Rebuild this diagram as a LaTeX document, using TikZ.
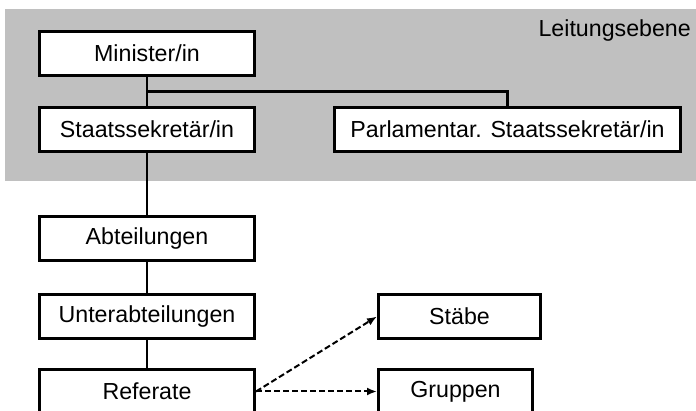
\documentclass[tikz,border=0pt]{standalone}
\usepackage{fontspec}
\setmainfont{Liberation Sans}
\usetikzlibrary{arrows.meta,calc}
\definecolor{bggray}{RGB}{192,192,192}
\tikzset{
  box/.style={draw=black, fill=white, line width=3pt, inner sep=0pt,
    font=\fontsize{23.2}{27}\selectfont},
  conn/.style={draw=black, line width=2.7pt},
  dasharrow/.style={draw=black, line width=2pt, dash pattern=on 6pt off 3pt,
    -{Latex[length=10pt,width=8pt]}},
  label/.style={font=\fontsize{23.2}{27}\selectfont, inner sep=0pt}
}
\begin{document}
\begin{tikzpicture}[x=1pt,y=-1pt]
\useasboundingbox (0,0) rectangle (696,411);
\clip (0,0) rectangle (696,411);
\fill[bggray] (5,9) rectangle (700,181);
\node[label, anchor=base east] (lt) at (691,37) {Leitungsebene};

\node[box, minimum width=215pt, minimum height=44pt] (min) at (147,53.5) {Minister/in};
\node[box, minimum width=215pt, minimum height=44pt] (sts) at (147,129.5) {Staatssekretär/in};
\node[box, minimum width=346pt, minimum height=44pt] (pst) at (507.5,129.5) {Parlamentar. Staatssekretär/in};
\node[box, minimum width=215pt, minimum height=44pt] (abt) at (147,238.5) {Abteilungen};
\node[box, minimum width=215pt, minimum height=44pt] (uab) at (147,316.5) {Unterabteilungen};
\node[box, minimum width=215pt, minimum height=44pt] (ref) at (147,391.5) {Referate};
\node[box, minimum width=162pt, minimum height=44pt] (stb) at (459.5,316.5) {Stäbe};
\node[box, minimum width=154pt, minimum height=44pt] (grp) at (455.5,391.5) {Gruppen};

\coordinate (j) at ($(min.south)!0.5!(sts.north)$);
\draw[conn] (min.south) -- (sts.north);
\draw[conn] (j) -| (pst.north);
\draw[conn] (sts.south) -- (abt.north);
\draw[conn] (abt.south) -- (uab.north);
\draw[conn] (uab.south) -- (ref.north);
\draw[dasharrow] (ref.east) -- (stb.west);
\draw[dasharrow] (ref.east) -- (grp.west);
\end{tikzpicture}
\end{document}
